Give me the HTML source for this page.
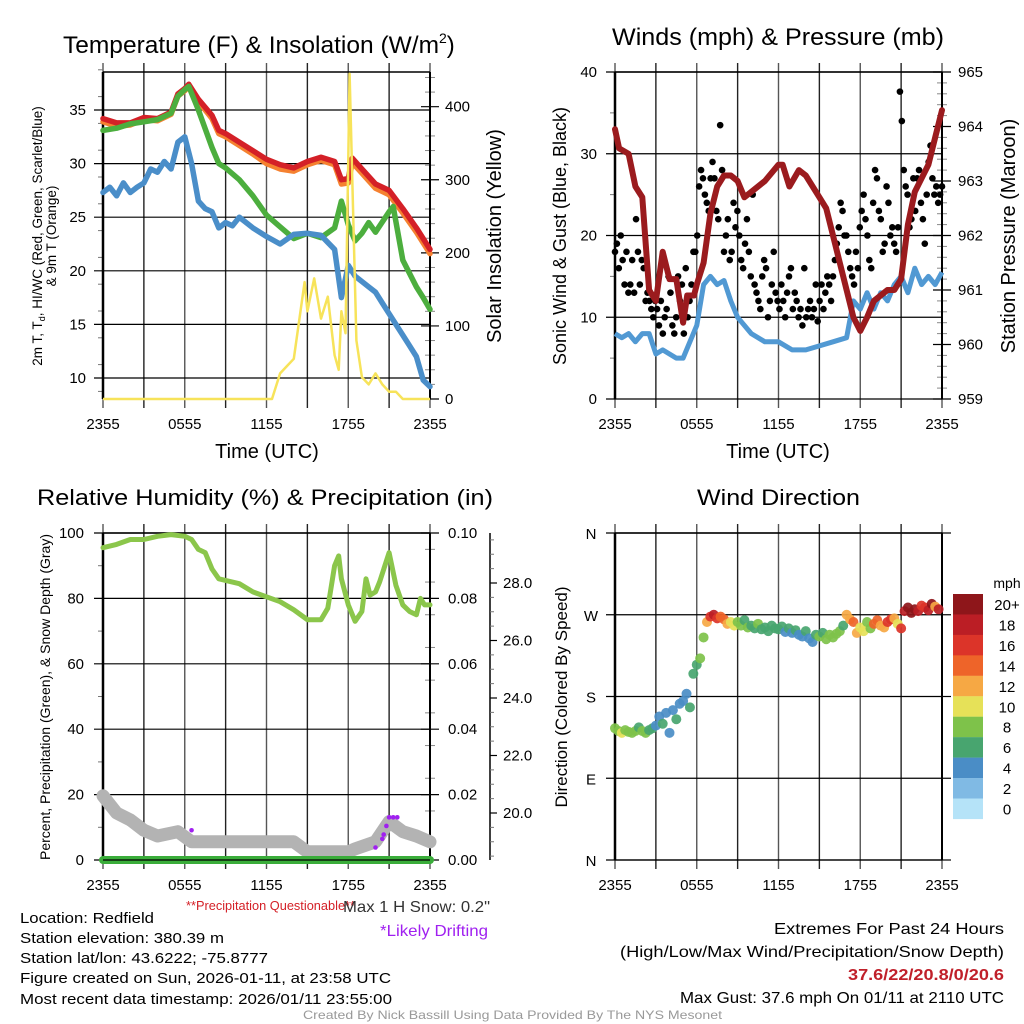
<!DOCTYPE html>
<html><head><meta charset="utf-8"><style>
html,body{margin:0;padding:0;background:#fff;}
svg{display:block;font-family:"Liberation Sans",sans-serif;}
.n{font-family:"Liberation Sans Narrow","Liberation Sans",sans-serif;}
</style></head><body>
<svg id="c" width="1024" height="1024" viewBox="0 0 1024 1024" xmlns="http://www.w3.org/2000/svg"></svg>
<script>
// ---------- DATA ----------
const hourTicks=["2355","0555","1155","1755","2355"];
const tempTimes=[0,1,2,3,4,5,5.5,6,6.3,7,8,8.5,9,10,11,12,13,14,15,16,17,17.5,18,18.3,19,20,21,22,23,24];
const tempRed=[34.2,33.8,33.8,34.3,34.2,34.8,36.5,37,37.4,36,34.5,33.1,32.8,32,31.2,30.4,29.9,29.6,30.2,30.6,30.2,28.5,28.6,30.5,29.5,28.1,27.5,25.8,24,22];
const tempOrange=[33.9,33.5,33.6,34.1,34.0,34.6,36.3,36.8,37.2,35.8,34.2,32.8,32.5,31.7,30.9,30.0,29.5,29.3,29.9,30.3,29.9,28.1,28.2,30.1,29.1,27.7,27.1,25.4,23.6,21.6];
const dewTimes=[0,1,2,3,4,5,5.5,6,6.3,7,8,8.5,9,10,11,12,13,14,15,16,17,17.5,18,18.5,19,19.5,20,21,21.3,22,23,23.5,24];
const dewGreen=[33.1,33.3,33.7,33.9,34.1,34.7,36.3,36.9,37.2,35,31.5,30,29.6,28.5,27,25.2,24.1,23,23.5,23.1,24,26.5,24.3,22.8,23.5,24.5,23.6,25.5,26,21,18.5,17.5,16.4];
const wcTimes=[0,0.5,1,1.5,2,2.5,3,3.5,4,4.5,5,5.5,6,6.5,7,7.5,8,8.5,9,9.5,10,11,12,13,14,15,16,17,17.5,18,18.5,19,19.5,20,20.5,21,21.5,22,22.5,23,23.5,24];
const wcBlue=[27.3,27.8,27,28.2,27.3,27.8,28.2,29.5,29.2,30.2,29.5,32,32.5,30,26.5,25.8,25.5,24,24.5,24.2,25,24,23.2,22.5,23.4,23.5,23.3,22,17.5,20.5,19.5,19,18.5,18,17,16,15,14,13,12,9.8,9.2];
const solTimes=[0,12.4,13,13.5,14,14.8,15,15.5,16,16.5,17,17.3,17.5,17.8,18,18.1,18.3,18.6,19,19.5,20,20.5,21,21.5,22,24];
const solar=[0,0,35,45,55,160,120,165,110,140,60,40,120,90,330,445,300,80,30,20,35,20,10,10,0,0];
const windTimes=[0,0.5,1,1.5,2,2.5,3,3.5,4,4.5,5,5.5,6,6.5,7,7.5,8,8.5,9,10,11,12,13,14,15,16,17,17.5,18,18.5,19,19.5,20,20.5,21,21.5,22,22.5,23,23.5,24];
const windSpeed=[8,7.5,8,7,8,8,5.5,6,5.5,5,5,7,9,14,15,14,14.5,12,10,8,7,7,6,6,6.5,7,7.5,12,11,13,11,13,12,14,15,13,16,14,15,14,15.5];
const gusts=[18,19,16,20,17,14,18,13,14,17,13,22,18,14,17,16,12,13,12,11,10,12,11,9,12,8,10,11,15,13,9,8,10,15,12,14,8,16,10,12,14,18,18,20,26,28,27,25,24,23,27,29,27,23,22,33.5,28,18,20,22,17,18,24,21,23,20,17,16,19,22,18,15,25,14,13,12,11,15,17,16,10,12,14,18,13,12,11,14,12,10,13,15,16,11,13,12,10,11,9,16,10,11,12,10,11,14,9.5,12,14,11,13,15,14,12,15,17,19,21,24,23,20,20,18,16,15,14,18,16,21,23,25,22,20,17,16,24,28,27,23,22,18,19,26,24,20,21,19,18,21,37.6,34,28,26,25,21,22,27,23,27,28,24,22,19,25,29,31,27,25,26,24,25,26];
const presTimes=[0,0.3,1,1.5,2,2.5,3,3.5,4,4.5,5,5.3,5.8,6,6.5,7,7.5,8,8.5,9,9.5,10,11,12,12.3,12.8,13.5,14,15,15.5,16,16.5,17,17.5,18,18.5,19,20,20.5,21,21.5,22,23,23.5,24];
const pressure=[963.95,963.6,963.5,962.9,962.7,961.0,960.8,961.7,961.2,961.2,960.4,960.9,960.9,961.1,961.5,962.4,962.9,963.1,963.1,963.0,962.7,962.8,963.0,963.3,963.3,962.9,963.2,963.1,962.7,962.5,962.0,961.5,961.0,960.5,960.25,960.5,960.8,961.0,961.0,961.2,962.2,962.8,963.3,963.8,964.3];
const rhTimes=[0,1,2,3,4,5,6,6.5,7,7.5,8,8.5,9,10,11,12,13,14,15,16,16.5,17,17.3,17.5,18,18.5,19,19.3,19.6,20,20.3,21,21.5,22,22.5,23,23.3,23.6,24];
const rh=[95.5,96.5,98,98,99,99.5,99,98,95,94,89,86,85.5,84.5,82,80.5,79,76.5,73.5,73.5,77,90,93,86,78,73,76,86,81,82,85,94,84,78,76,75,80,78,78];
const snowTimes=[0,1,2,3,4,5.5,6.5,14,15,18,18.5,20,21,22,23,24];
const snowDepth=[20.6,20.0,19.76,19.4,19.2,19.35,19.0,19.0,18.65,18.65,18.75,19.0,19.7,19.35,19.2,19.0];
const driftTimes=[6.5,20.0,20.5,20.6,20.8,21.0,21.3,21.6];
const driftDepth=[19.4,18.8,19.1,19.25,19.55,19.85,19.85,19.85];
const precip=[0,0];
const dirValues=[145,142,140,143,141,140,142,146,142,140,143,145,148,158,150,162,140,165,155,172,175,183,168,205,215,222,245,262,268,270,266,268,265,260,262,258,262,258,264,256,258,255,260,254,256,252,258,255,254,257,251,255,250,253,248,246,252,244,240,248,246,250,243,248,245,249,252,258,270,265,262,250,256,252,262,255,260,264,258,256,262,265,266,260,255,274,278,272,276,274,280,278,275,282,279,276];
const dirSpeeds=[9,8,10,8,8,9,8,7,8,8,7,6,5,4,6,5,5,4,6,5,4,5,6,6,7,8,9,13,17,19,16,15,14,12,10,11,8,9,7,8,7,7,8,6,7,6,7,6,6,7,5,7,5,6,4,5,6,5,4,7,8,7,8,8,8,9,8,7,12,13,14,12,10,11,9,8,14,15,13,12,16,17,13,11,16,19,20,21,20,18,17,16,19,20,13,18];
const binLabels=["20+","18","16","14","12","10","8","6","4","2","0"];
const binColors=["#8e161a","#bb1e25","#dc3429","#ee6429","#f6a844","#e6e158","#7ec24a","#48a56f","#4a8dc6","#80bae4","#b5e3f8"];

// ---------- DRAW ----------
const NS="http://www.w3.org/2000/svg";
const svg=document.getElementById('c');
function el(tag,attrs,parent){const e=document.createElementNS(NS,tag);for(const k in attrs)e.setAttribute(k,attrs[k]);(parent||svg).appendChild(e);return e;}
function txt(s,x,y,size,anchor,extra,parent){const t=el('text',Object.assign({x:x,y:y,'font-size':size,'text-anchor':anchor||'start',fill:'#000'},extra||{}),parent);t.textContent=s;return t;}
function fit(w){return {textLength:w,lengthAdjust:'spacingAndGlyphs'};}
function lin(a,b,min,max){return v=>a+(v-min)*(b-a)/(max-min);}
function pathOf(xs,ys,fx,fy){return xs.map((x,i)=>(i?'L':'M')+fx(x).toFixed(1)+','+fy(ys[i]).toFixed(1)).join('');}

function frame(x0,x1,y0,y1,name,leftTicks,fyL,rightTicks,fyR,minorL,minorR){
  const g=el('g',{});
  
  
  const tx=lin(x0,x1,0,24);
  for(let h=0;h<=24;h+=3){el('line',{x1:tx(h),x2:tx(h),y1:y0-9,y2:y1+9,stroke:(h%6===0)?'#555':'#222','stroke-width':1.4},g);}
  hourTicks.forEach((s,i)=>{const t=txt(s,tx(i*6),y1+30,15,'middle',{},g);});
  leftTicks.forEach(v=>{const y=fyL(v);el('line',{x1:x0-9,x2:x1,y1:y,y2:y,stroke:'#000','stroke-width':1.2},g);});
  (minorL||[]).forEach(v=>{const y=fyL(v);el('line',{x1:x0-5,x2:x0,y1:y,y2:y,stroke:'#777','stroke-width':1},g);});
  if(rightTicks){rightTicks.forEach(v=>{const y=fyR(v);el('line',{x1:x1-9,x2:x1+9,y1:y,y2:y,stroke:'#000','stroke-width':1.2},g);});
    (minorR||[]).forEach(v=>{const y=fyR(v);el('line',{x1:x1-5,x2:x1+5,y1:y,y2:y,stroke:'#888','stroke-width':1},g);});}
  el('line',{x1:x0,x2:x1,y1:y0,y2:y0,stroke:'#000','stroke-width':1.5},g);
  el('line',{x1:x0,x2:x0,y1:y0,y2:y1,stroke:'#000','stroke-width':2.5},g);
  el('line',{x1:x1,x2:x1,y1:y0,y2:y1,stroke:'#000','stroke-width':2},g);
  return tx;
}
function range(a,b,s){const r=[];for(let v=a;v<=b+1e-9;v+=s)r.push(+v.toFixed(4));return r;}

// ===== Panel 1: Temperature =====
{
 const x0=103,x1=430,y0=72,y1=399;
 const fy=lin(378,110,10,35), fs=lin(399,106.7,0,400);
 const tx=frame(x0,x1,y0,y1,'temperature',[10,15,20,25,30,35],fy,[0,100,200,300,400],fs,range(8.75,38.75,2.5).filter(v=>v%5!==0),range(20,440,20).filter(v=>v%100!==0));
 [10,15,20,25,30,35].forEach(v=>{const t=txt(String(v),86,fy(v)+5,15,'end');});
 [0,100,200,300,400].forEach(v=>{const t=txt(String(v),445,fs(v)+5,15,'start');});
 const series=[[tempTimes,tempOrange,'#f58130','orange-9m-temp-line'],[tempTimes,tempRed,'#d42027','red-2m-temp-line'],[dewTimes,dewGreen,'#4cae3e','green-dewpoint-line'],[wcTimes,wcBlue,'#4a8ec9','blue-windchill-line']];
 series.forEach(s=>{const p=el('path',{d:pathOf(s[0],s[1],tx,fy),fill:'none',stroke:s[2],'stroke-width':5.5,'stroke-linejoin':'round','stroke-linecap':'round'});});
 const ps=el('path',{d:pathOf(solTimes,solar,tx,fs),fill:'none',stroke:'#f7e35a','stroke-width':2.5,'stroke-linejoin':'round'});
 
 
 const t1=el('text',{x:63,y:53,'font-size':24});t1.innerHTML='<tspan textLength="376" lengthAdjust="spacingAndGlyphs">Temperature (F) &amp; Insolation (W/m</tspan><tspan dy="-10" font-size="14">2</tspan><tspan dy="10">)</tspan>';
 
 const xl=txt('Time (UTC)',267,458,20,'middle');
 const yl=el('text',{transform:'translate(42,236) rotate(-90)','font-size':13.5,'text-anchor':'middle'});yl.innerHTML='2m T, T<tspan dy="3" font-size="9">d</tspan><tspan dy="-3">, HI/WC (Red, Green, Scarlet/Blue)</tspan>';
 
 const yl2=txt('& 9m T (Orange)',0,0,13.5,'middle',{transform:'translate(56,236) rotate(-90)'});
 const yr=txt('Solar Insolation (Yellow)',0,0,20,'middle',{transform:'translate(501,236) rotate(-90)'});
}
// ===== Panel 2: Winds =====
{
 const x0=615,x1=942,y0=72,y1=399;
 const fy=lin(399,72,0,40), fp=lin(399,72,959,965);
 const tx=frame(x0,x1,y0,y1,'winds',[0,10,20,30,40],fy,[959,960,961,962,963,964,965],fp,[5,15,25,35],range(959.2,964.8,0.2).filter(v=>Math.abs(v-Math.round(v))>0.05));
 [0,10,20,30,40].forEach(v=>{const t=txt(String(v),597,fy(v)+5,15,'end');});
 [959,960,961,962,963,964,965].forEach(v=>{const t=txt(String(v),958,fp(v)+5,15,'start');});
 const pw=el('path',{d:pathOf(windTimes,windSpeed,tx,fy),fill:'none',stroke:'#5199d3','stroke-width':5,'stroke-linejoin':'round'});
 
 
 const gg=el('g',{});
 
 
 gusts.forEach((v,i)=>{const c=el('circle',{cx:tx(i*24/(gusts.length-1)),cy:fy(v),r:3.3,fill:'#000'},gg);});
 const pp=el('path',{d:pathOf(presTimes,pressure,tx,fp),fill:'none',stroke:'#9b1b1e','stroke-width':6,'stroke-linejoin':'round','stroke-linecap':'round'});
 
 
 const t=txt('Winds (mph) & Pressure (mb)',612,45,24,'start',fit(332));
 const xl=txt('Time (UTC)',778,458,20,'middle');
 const yl=txt('Sonic Wind & Gust (Blue, Black)',0,0,18,'middle',{transform:'translate(566,236) rotate(-90)'});
 const yr=txt('Station Pressure (Maroon)',0,0,20,'middle',{transform:'translate(1015,236) rotate(-90)'});
}
// ===== Panel 3: RH =====
{
 const x0=103,x1=430,y0=533,y1=860;
 const fy=lin(860,533,0,100), fr=lin(860,533,0,0.1), fsn=lin(813,583,20,28);
 const tx=frame(x0,x1,y0,y1,'humidity',[0,20,40,60,80,100],fy,[0,0.02,0.04,0.06,0.08,0.1],fr,[10,30,50,70,90],range(0.005,0.095,0.01));
 [0,20,40,60,80,100].forEach(v=>{const t=txt(String(v),84,fy(v)+5,15,'end');});
 [0,0.02,0.04,0.06,0.08,0.1].forEach(v=>{const t=txt(v.toFixed(2),448,fr(v)+5,15,'start');});
 const ax=el('g',{});
 el('line',{x1:490,x2:490,y1:533,y2:860,stroke:'#000','stroke-width':1.5},ax);
 [20,22,24,26,28].forEach(v=>{el('line',{x1:490,x2:497,y1:fsn(v),y2:fsn(v),stroke:'#000','stroke-width':1.2},ax);const t=txt(v.toFixed(1),503,fsn(v)+5,15,'start',{},ax);});
 range(18.5,29.5,0.5).filter(v=>v%2!==0).forEach(v=>{el('line',{x1:490,x2:494,y1:fsn(v),y2:fsn(v),stroke:'#777','stroke-width':1},ax);});
 const ps=el('path',{d:pathOf(snowTimes,snowDepth,tx,fsn),fill:'none',stroke:'#b3b3b3','stroke-width':13,'stroke-linejoin':'round','stroke-linecap':'round'});
 
 
 const pr=el('path',{d:pathOf([0,24],precip,tx,fr),fill:'none',stroke:'#3aad3a','stroke-width':8,'stroke-linecap':'round'});
 
 
 el('line',{x1:x0,x2:x1,y1:y1,y2:y1,stroke:'#000','stroke-width':1.2});
 driftTimes.forEach((h,i)=>{const c=el('circle',{cx:tx(h),cy:fsn(driftDepth[i]),r:2.3,fill:'#a020f0'});});
 const prh=el('path',{d:pathOf(rhTimes,rh,tx,fy),fill:'none',stroke:'#8bc64b','stroke-width':5,'stroke-linejoin':'round','stroke-linecap':'round'});
 
 
 const t=txt('Relative Humidity (%) & Precipitation (in)',37,505,22,'start',fit(456));
 const yl=txt('Percent, Precipitation (Green), & Snow Depth (Gray)',0,0,14,'middle',{transform:'translate(50,697) rotate(-90)'});
}
// ===== Panel 4: Wind direction =====
{
 const x0=615,x1=942,y0=533,y1=860;
 const fy=lin(860,533,0,360);
 const tx=frame(x0,x1,y0,y1,'wind-direction',[0,90,180,270,360],fy,null,null,[]);
 [0,90,180,270,360].forEach(v=>{el('line',{x1:x1,x2:x1+9,y1:fy(v),y2:fy(v),stroke:'#000','stroke-width':1.2});});
 el('line',{x1:x0,x2:x1,y1:y1,y2:y1,stroke:'#000','stroke-width':1.2});
 ['N','E','S','W','N'].forEach((s,i)=>{const t=txt(s,591,fy(i*90)+6,15,'middle');});
 const g=el('g',{});
 dirValues.forEach((d,i)=>{const sp=dirSpeeds[i];const bin=Math.min(10,Math.floor(sp/2));const c=el('circle',{cx:tx(i*0.25),cy:fy(d),r:5,fill:binColors[10-bin],'fill-opacity':0.92},g);});
 const cb=el('g',{});
 binLabels.forEach((s,i)=>{const yy=594+i*20.45;el('rect',{x:953,y:yy,width:30,height:20.6,fill:binColors[i]},cb);const t=txt(s,1007,yy+16,15,'middle',{},cb);});
 const m=txt('mph',1007,588,14,'middle');
 const t=txt('Wind Direction',697,505,22,'start',fit(163));
 const yl=txt('Direction (Colored By Speed)',0,0,17,'middle',{transform:'translate(567,697) rotate(-90)'});
}
// ===== Footer text =====
{
 const info=[["Location: Redfield",923,134],["Station elevation: 380.39 m",943,204],["Station lat/lon: 43.6222; -75.8777",963,248],["Figure created on Sun, 2026-01-11, at 23:58 UTC",983,371],["Most recent data timestamp: 2026/01/11 23:55:00",1004,372]];
 info.forEach(a=>{const t=txt(a[0],20,a[1],15,'start',fit(a[2]));});
 const rt=[["Extremes For Past 24 Hours",934,774,'#000','normal'],["(High/Low/Max Wind/Precipitation/Snow Depth)",957,620,'#000','normal'],["37.6/22/20.8/0/20.6",980,848,'#c0202a','bold'],["Max Gust: 37.6 mph On 01/11 at 2110 UTC",1003,680,'#000','normal']];
 rt.forEach(a=>{const t=txt(a[0],a[2],a[1],16,'start',Object.assign(fit(1004-a[2]),{fill:a[3],'font-weight':a[4]}));});
 const q=txt('**Precipitation Questionable**',186,910,13,'start',Object.assign(fit(169),{fill:'#d42027'}));
 const s=txt('Max 1 H Snow: 0.2"',343,912,16,'start',Object.assign(fit(147),{fill:'#333'}));
 const d=txt('*Likely Drifting',380,936,16,'start',Object.assign(fit(108),{fill:'#a020f0'}));
 const c=txt('Created By Nick Bassill Using Data Provided By The NYS Mesonet',303,1019,12,'start',Object.assign(fit(419),{fill:'#999'}));
}
</script>
</body></html>
